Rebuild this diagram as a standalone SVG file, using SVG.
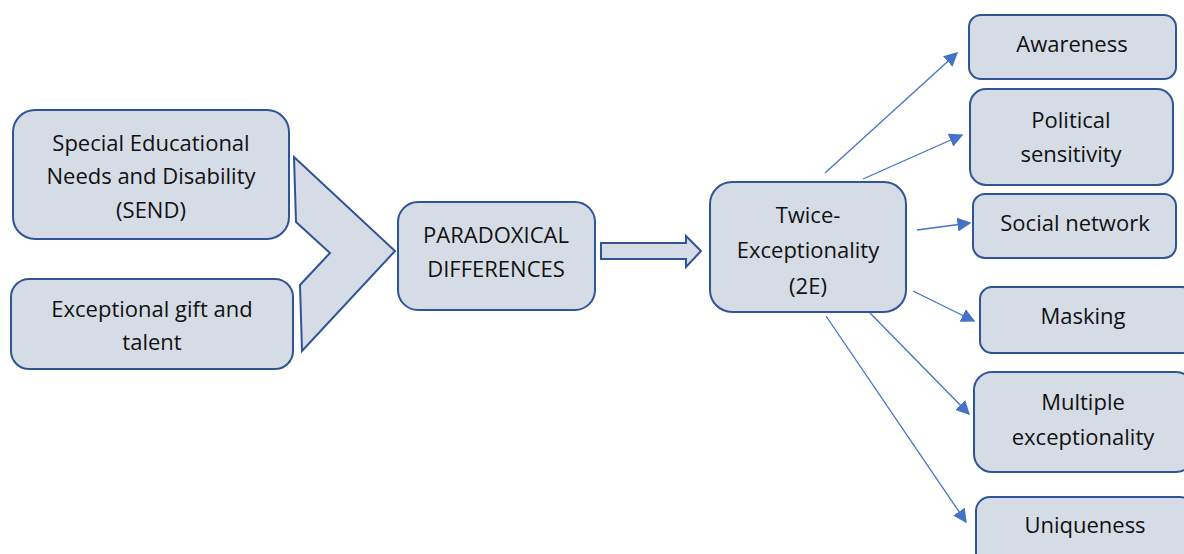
<svg xmlns="http://www.w3.org/2000/svg" width="1184" height="554" viewBox="0 0 1184 554">
<style>
.box{fill:#d6dce5;stroke:#2f5597;stroke-width:2}
.t{font-family:"Open Sans","Liberation Sans",sans-serif;font-size:22px;fill:#111;text-anchor:middle}
.c{stroke:#4472c4;stroke-width:1.3;fill:none;marker-end:url(#ah)}
</style>
<defs>
<marker id="ah" viewBox="0 0 10 10" refX="9" refY="5" markerWidth="14" markerHeight="14" markerUnits="userSpaceOnUse" orient="auto">
<path d="M0,0 L10,5 L0,10 z" fill="#4472c4"/>
</marker>
</defs>
<rect width="1184" height="554" fill="#fff"/>
<g id="send">
<rect class="box" x="13" y="110" width="276" height="129" rx="22"/>
<text class="t" x="151" y="151">Special Educational</text>
<text class="t" x="151" y="184">Needs and Disability</text>
<text class="t" x="151" y="218">(SEND)</text>
</g>
<g id="gift">
<rect class="box" x="11" y="279" width="282" height="90" rx="18"/>
<text class="t" x="152" y="317">Exceptional gift and</text>
<text class="t" x="152" y="350">talent</text>
</g>
<g id="chevron">
<polygon class="box" points="294,157 395,251 302,351 300,285 330,253 296,222"/>
</g>
<g id="paradox">
<rect class="box" x="398" y="202" width="197" height="108" rx="20"/>
<text class="t" x="496" y="243">PARADOXICAL</text>
<text class="t" x="496" y="277">DIFFERENCES</text>
</g>
<g id="blockarrow">
<polygon class="box" points="601,243 686,243 686,236 701,251 686,267 686,259 601,259"/>
</g>
<g id="twice">
<rect class="box" x="710" y="182" width="196" height="130" rx="22"/>
<text class="t" x="808" y="223">Twice-</text>
<text class="t" x="808" y="258">Exceptionality</text>
<text class="t" x="808" y="294">(2E)</text>
</g>
<g id="awareness">
<rect class="box" x="969" y="15" width="207" height="64" rx="12"/>
<text class="t" x="1072" y="52">Awareness</text>
</g>
<g id="political">
<rect class="box" x="970" y="89" width="203" height="96" rx="16"/>
<text class="t" x="1071" y="128">Political</text>
<text class="t" x="1071" y="162">sensitivity</text>
</g>
<g id="social">
<rect class="box" x="973" y="194" width="203" height="64" rx="12"/>
<text class="t" x="1075" y="231">Social network</text>
</g>
<g id="masking">
<rect class="box" x="980" y="287" width="214" height="66" rx="12"/>
<text class="t" x="1083" y="324">Masking</text>
</g>
<g id="multiple">
<rect class="box" x="974" y="372" width="220" height="100" rx="18"/>
<text class="t" x="1083" y="410">Multiple</text>
<text class="t" x="1083" y="445">exceptionality</text>
</g>
<g id="uniqueness">
<rect class="box" x="976" y="497" width="218" height="80" rx="14"/>
<text class="t" x="1085" y="533">Uniqueness</text>
</g>
<g id="connectors">
<line class="c" x1="825" y1="173" x2="957" y2="53"/>
<line class="c" x1="863" y1="179" x2="962" y2="135"/>
<line class="c" x1="917" y1="230" x2="970" y2="223"/>
<line class="c" x1="913" y1="291" x2="974" y2="321"/>
<line class="c" x1="870" y1="313" x2="969" y2="414"/>
<line class="c" x1="826" y1="316" x2="966" y2="522"/>
</g>
</svg>
